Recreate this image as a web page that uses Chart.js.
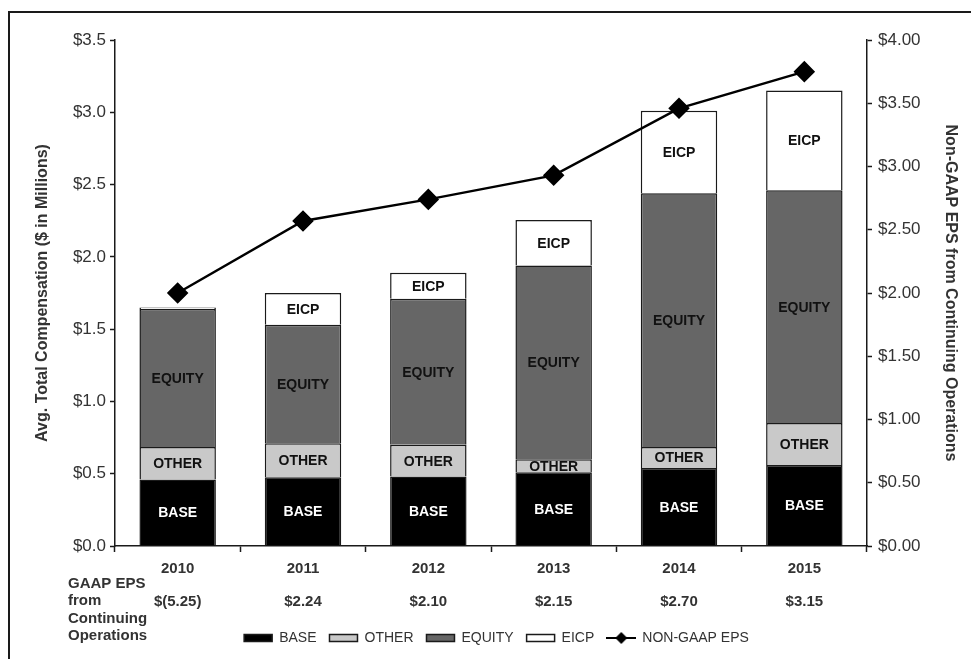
<!DOCTYPE html>
<html>
<head>
<meta charset="utf-8">
<title>Avg. Total Compensation vs Non-GAAP EPS</title>
<script src="https://cdn.jsdelivr.net/npm/chart.js@4.4.1/dist/chart.umd.min.js"></script>
<style>
  html, body { margin: 0; padding: 0; background: #fff; }
  #moldura {
    position: absolute; left: 8px; top: 11px; width: 963px; height: 648px;
    border-left: 2px solid #1a1a1a; border-top: 2px solid #1a1a1a;
  }
  #caixa { position: absolute; left: 0; top: 0; width: 971px; height: 659px; }
</style>
</head>
<body>
<div id="moldura"></div>
<div id="caixa"><canvas id="grafico"></canvas></div>
<script>
// Dados
const anos = ["2010", "2011", "2012", "2013", "2014", "2015"];
const gaapEps = ["$(5.25)", "$2.24", "$2.10", "$2.15", "$2.70", "$3.15"];

// componentes da remuneração ($ milhões)
const base   = [0.46, 0.475, 0.48, 0.51, 0.54, 0.56];
const other  = [0.225, 0.235, 0.22, 0.09, 0.145, 0.29];
const equity = [0.955, 0.82, 1.01, 1.34, 1.755, 1.61];
const eicp   = [0.01, 0.22, 0.18, 0.315, 0.57, 0.69];

// Non-GAAP EPS (eixo da direita)
const nonGaapEps = [2.00, 2.57, 2.74, 2.93, 3.46, 3.75];

const corTexto = "#333";
const corLinha = "#1a1a1a";

// rótulos do eixo x: ano + linha vazia + GAAP EPS
const rotulosX = anos.map((ano, i) => [ano, "", gaapEps[i]]);

// ícone da legenda para a linha (traço com losango)
const iconeLinha = document.createElement("canvas");
iconeLinha.width = 30;
iconeLinha.height = 16;
(function () {
    const c = iconeLinha.getContext("2d");
    c.strokeStyle = "#000";
    c.lineWidth = 2;
    c.beginPath(); c.moveTo(0, 8); c.lineTo(30, 8); c.stroke();
    c.fillStyle = "#000";
    c.beginPath(); c.moveTo(15, 2); c.lineTo(21, 8); c.lineTo(15, 14); c.lineTo(9, 8); c.closePath(); c.fill();
})();

// escreve BASE / OTHER / EQUITY / EICP dentro das barras
const rotulosBarras = {
    id: "rotulosBarras",
    afterDatasetsDraw(chart) {
        const ctx = chart.ctx;
        ctx.save();
        ctx.font = "bold 14px 'Liberation Sans', Arial, sans-serif";
        ctx.textAlign = "center";
        ctx.textBaseline = "middle";
        chart.data.datasets.forEach((ds, i) => {
            if (ds.type === "line") return;
            const meta = chart.getDatasetMeta(i);
            meta.data.forEach((barra, j) => {
                if (ds.data[j] < 0.05) return;
                ctx.fillStyle = ds.label === "BASE" ? "#fff" : "#111";
                ctx.fillText(ds.label, barra.x, (barra.y + barra.base) / 2 + 1);
            });
        });
        ctx.restore();
    }
};

// texto "GAAP EPS from Continuing Operations" à esquerda
const textoGaap = {
    id: "textoGaap",
    afterDraw(chart) {
        const ctx = chart.ctx;
        const y0 = chart.chartArea.bottom;
        ctx.save();
        ctx.font = "bold 15px 'Liberation Sans', Arial, sans-serif";
        ctx.fillStyle = corTexto;
        ctx.textAlign = "left";
        ctx.textBaseline = "middle";
        ["GAAP EPS", "from", "Continuing", "Operations"].forEach((t, k) => {
            ctx.fillText(t, 68, y0 + 38 + k * 17.3);
        });
        ctx.restore();
    }
};

const ctx = document.getElementById("grafico").getContext("2d");

const grafico = new Chart(ctx, {
    data: {
        labels: rotulosX,
        datasets: [
            { type: "bar", label: "BASE", data: base, backgroundColor: "#000", borderColor: corLinha, borderWidth: 1.5, order: 1 },
            { type: "bar", label: "OTHER", data: other, backgroundColor: "#c9c9c9", borderColor: corLinha, borderWidth: 1.5, order: 1 },
            { type: "bar", label: "EQUITY", data: equity, backgroundColor: "#666", borderColor: corLinha, borderWidth: 1.5, order: 1 },
            { type: "bar", label: "EICP", data: eicp, backgroundColor: "#fff", borderColor: corLinha, borderWidth: 1.5, order: 1 },
            {
                type: "line", label: "NON-GAAP EPS", data: nonGaapEps, yAxisID: "y1",
                borderColor: "#000", backgroundColor: "#000", borderWidth: 2.5,
                pointStyle: "rectRot", pointRadius: 9, pointHoverRadius: 9,
                tension: 0, fill: false, order: 0
            }
        ]
    },
    options: {
        responsive: true,
        maintainAspectRatio: false,
        animation: false,
        layout: { padding: { left: 33, right: 11, top: 40, bottom: 4 } },
        datasets: { bar: { categoryPercentage: 1, barPercentage: 0.61 } },
        scales: {
            x: {
                stacked: true,
                offset: true,
                grid: { offset: true, drawOnChartArea: false, color: corLinha, tickLength: 6, tickWidth: 1.5 },
                border: { color: corLinha, width: 1.5 },
                ticks: {
                    color: corTexto, padding: 8, maxRotation: 0,
                    font: { family: "'Liberation Sans', Arial, sans-serif", size: 15, weight: "bold", lineHeight: 1.12 }
                },
                afterFit(escala) { escala.height = 72; }
            },
            y: {
                stacked: true,
                position: "left",
                min: 0, max: 3.5,
                grid: { drawOnChartArea: false, color: corLinha, tickLength: 5, tickWidth: 1.5 },
                border: { color: corLinha, width: 1.5 },
                ticks: {
                    stepSize: 0.5, color: corTexto, padding: 4,
                    font: { family: "'Liberation Sans', Arial, sans-serif", size: 17 },
                    callback: v => "$" + v.toFixed(1)
                },
                title: {
                    display: true, text: "Avg. Total Compensation ($ in Millions)", color: corTexto,
                    font: { family: "'Liberation Sans', Arial, sans-serif", size: 16, weight: "bold" },
                    padding: { top: 0, bottom: 0 }
                },
                afterFit(escala) { escala.width = 82; }
            },
            y1: {
                position: "right",
                min: 0, max: 4,
                grid: { drawOnChartArea: false, color: corLinha, tickLength: 5, tickWidth: 1.5 },
                border: { color: corLinha, width: 1.5 },
                ticks: {
                    stepSize: 0.5, color: corTexto, padding: 6,
                    font: { family: "'Liberation Sans', Arial, sans-serif", size: 17 },
                    callback: v => "$" + v.toFixed(2)
                },
                title: {
                    display: true, text: "Non-GAAP EPS from Continuing Operations", color: corTexto,
                    font: { family: "'Liberation Sans', Arial, sans-serif", size: 16, weight: "bold" },
                    padding: { top: 0, bottom: 0 }
                },
                afterFit(escala) { escala.width = 93; }
            }
        },
        plugins: {
            tooltip: { enabled: false },
            legend: {
                position: "bottom",
                labels: {
                    color: corTexto,
                    font: { family: "'Liberation Sans', Arial, sans-serif", size: 14 },
                    usePointStyle: true,
                    pointStyleWidth: 28,
                    boxHeight: 7,
                    padding: 13,
                    sort: (a, b) => a.datasetIndex - b.datasetIndex,
                    generateLabels(chart) {
                        const itens = Chart.defaults.plugins.legend.labels.generateLabels(chart);
                        itens.forEach(item => {
                            if (item.datasetIndex === 4) {
                                item.pointStyle = iconeLinha;
                            } else {
                                item.pointStyle = "rect";
                                item.strokeStyle = corLinha;
                                item.lineWidth = 1.5;
                            }
                        });
                        return itens;
                    }
                }
            }
        }
    },
    plugins: [rotulosBarras, textoGaap]
});
</script>
</body>
</html>
